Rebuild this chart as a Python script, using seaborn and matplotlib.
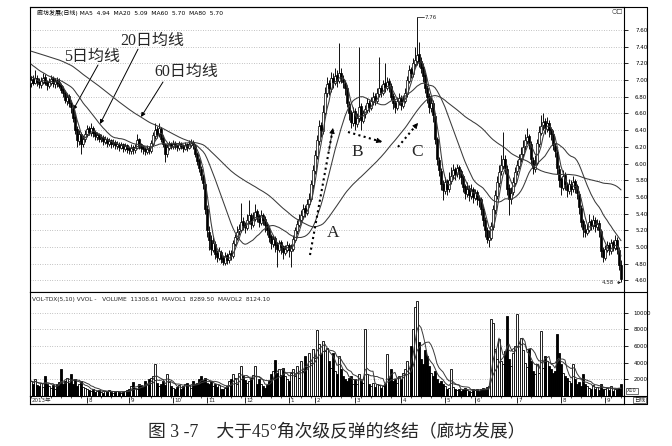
import numpy as np
import pandas as pd
import matplotlib
matplotlib.use("Agg")
import matplotlib.pyplot as plt
import seaborn as sns
from matplotlib.lines import Line2D

sns.set_theme(style="white")
plt.rcParams['font.family'] = ['DejaVu Sans', 'Noto Sans CJK SC']
plt.rcParams['axes.unicode_minus'] = False

# ---------------- data (prices in cents) ----------------
warmup_close = [744, 741, 746, 743, 740, 745, 742, 747, 744, 741, 743, 746, 742, 740, 744,
                741, 745, 743, 739, 742, 744, 741, 746, 743, 740, 742, 745, 741, 743, 740,
                744, 742, 739, 743, 741, 745, 742, 740, 738, 741,
                740, 738, 735, 736, 732, 730, 728, 725, 726, 722, 720, 716, 718, 713, 710,
                712, 707, 705, 708, 703]

close = [700, 697, 702, 698, 695, 699, 703, 697, 694, 698, 701, 696, 699, 697,
         693, 688, 684, 676, 680, 672, 668,
         655, 640, 628, 635, 624,
         630, 636, 641, 638, 642, 637, 633,
         634, 630, 631, 627, 629, 625, 627, 624, 625, 622, 623, 620, 622, 619, 621,
         618, 616, 619, 617, 620, 628, 622, 619, 617, 615, 618, 616,
         625, 634, 640, 636, 642,
         630, 624,
         612, 620, 623, 621, 624, 622, 620, 623, 621, 619, 622, 620, 623,
         625, 622,
         612, 603, 595, 586, 577,
         545, 520, 508,
         498, 505, 492, 488, 495, 486, 482, 489, 485,
         492, 490,
         505, 512, 518, 522, 530, 526, 524,
         532, 538, 528, 535, 542, 536, 530, 538, 533, 526,
         520, 512, 505, 510, 502, 498, 505, 500, 494, 498, 502, 496, 499,
         510, 520, 528, 534,
         538, 546, 542, 552, 558,
         575, 592, 610,
         628, 645, 640, 662,
         685, 695, 690, 702, 698, 705, 700,
         708, 702, 698, 690,
         672, 660, 650, 662, 648, 655, 668, 652, 660,
         665, 672, 668, 675, 680, 676, 684, 690, 686, 695, 692, 698, 694,
         680, 672, 668, 675, 678, 670, 676, 684,
         700, 712, 708, 720, 724,
         730, 722, 715, 705,
         690, 680, 668, 672, 658,
         630, 605, 592,
         575, 568, 578, 570, 580,
         585, 592, 588, 595, 590, 584,
         572, 565, 570, 562, 568, 560, 565, 558, 556,
         545, 532, 520, 510, 512,
         525, 545, 562, 578, 590, 598, 605, 595,
         570, 558, 565,
         578, 590, 598, 605, 612, 620, 628, 632, 625,
         605, 595, 600,
         625, 638, 645, 650, 642, 648, 640, 635,
         622, 615,
         595, 580, 572, 585, 575,
         568, 575, 570, 578, 572, 565,
         548, 530, 522, 518,
         522, 530, 526, 532, 525, 528, 520,
         495, 488,
         498, 502, 496, 505, 500, 508, 498,
         478, 462]

open_ = [696, 701, 697, 703, 699, 694, 698, 704, 698, 693, 697, 702, 695, 700,
         698, 694, 689, 685, 675, 681, 673,
         667, 656, 641, 627, 636,
         623, 630, 635, 642, 637, 643, 638,
         632, 635, 629, 632, 626, 630, 624, 628, 623, 626, 621, 624, 619, 623, 618,
         622, 619, 615, 620, 616, 619, 629, 623, 620, 618, 614, 619,
         615, 624, 633, 641, 635,
         641, 631,
         623, 611, 619, 624, 620, 625, 622, 619, 624, 621, 618, 623, 619,
         622, 626,
         621, 611, 604, 594, 585,
         575, 546, 518,
         509, 497, 504, 493, 487, 494, 487, 481, 490,
         484, 493,
         489, 504, 511, 519, 521, 531, 527,
         523, 531, 539, 527, 534, 543, 537, 529, 539, 534,
         527, 521, 513, 504, 511, 503, 497, 506, 501, 493, 497, 503, 495,
         498, 509, 519, 527,
         533, 537, 547, 541, 551,
         557, 574, 591,
         609, 627, 646, 639,
         661, 684, 696, 689, 703, 697, 706,
         699, 709, 701, 697,
         691, 671, 661, 649, 663, 647, 654, 669, 651,
         659, 664, 673, 667, 674, 681, 675, 683, 691, 685, 696, 691, 699,
         693, 681, 673, 667, 674, 679, 669, 675,
         683, 699, 713, 707, 719,
         723, 731, 723, 716,
         706, 691, 681, 667, 673,
         657, 629, 604,
         591, 576, 567, 579, 569,
         579, 586, 593, 587, 596, 591,
         585, 573, 564, 571, 561, 569, 559, 566, 557,
         557, 546, 533, 521, 509,
         511, 524, 544, 561, 577, 591, 597, 606,
         594, 571, 557,
         566, 577, 591, 597, 606, 611, 621, 627, 633,
         624, 604, 594,
         601, 624, 637, 646, 651, 641, 649, 641,
         636, 621,
         614, 594, 581, 571, 586,
         574, 567, 576, 569, 579, 573,
         564, 547, 531, 521,
         517, 521, 531, 525, 533, 524, 529,
         519, 496,
         487, 497, 503, 495, 506, 499, 509,
         497, 479]

high = [705, 706, 712, 706, 702, 704, 708, 707, 700, 703, 706, 705, 703, 704,
        702, 697, 693, 688, 684, 683, 676,
        670, 660, 645, 640, 638,
        634, 640, 646, 645, 648, 645, 640,
        638, 637, 635, 634, 633, 632, 631, 630, 629, 628, 627, 626, 626, 625, 625,
        624, 621, 623, 622, 624, 636, 631, 625, 622, 620, 622, 621,
        628, 638, 649, 645, 648,
        644, 634,
        625, 624, 627, 626, 628, 627, 624, 627, 626, 623, 626, 625, 628,
        630, 628,
        623, 614, 607, 597, 588,
        578, 550, 525,
        515, 512, 507, 496, 500, 497, 490, 494, 493,
        497, 496,
        508, 516, 525, 528, 553, 536, 530,
        540, 556, 541, 542, 552, 546, 540, 544, 541, 537,
        530, 524, 516, 515, 513, 506, 509, 508, 503, 503, 507, 505, 504,
        514, 524, 533, 540,
        544, 552, 550, 558, 565,
        580, 598, 616,
        634, 652, 650, 670,
        692, 704, 700, 710, 708, 715, 712,
        744, 714, 706, 700,
        694, 675, 664, 668, 666, 660, 740, 672, 664,
        670, 678, 676, 680, 686, 684, 690, 728, 694, 700, 720, 704, 702,
        696, 684, 676, 680, 684, 682, 682, 690,
        705, 718, 716, 726, 740,
        776, 745, 728, 720,
        710, 694, 684, 680, 676,
        660, 632, 608,
        595, 580, 584, 582, 590,
        596, 600, 596, 600, 598, 594,
        588, 576, 578, 574, 575, 572, 570, 568, 562,
        560, 549, 536, 524, 520,
        530, 550, 568, 585, 598, 610, 638, 610,
        598, 575, 572,
        584, 596, 604, 612, 620, 628, 636, 642, 636,
        627, 608, 610,
        630, 645, 658, 660, 654, 656, 652, 644,
        640, 625,
        617, 598, 584, 592, 590,
        578, 582, 580, 585, 582, 576,
        567, 550, 534, 528,
        528, 540, 534, 538, 536, 534, 532,
        522, 500,
        503, 507, 506, 510, 509, 514, 512,
        500, 485]

low = [692, 694, 695, 693, 690, 690, 695, 694, 688, 690, 694, 692, 691, 692,
       690, 684, 680, 672, 670, 668, 660,
       650, 636, 620, 622, 612,
       620, 626, 632, 634, 633, 632, 628,
       628, 626, 626, 622, 623, 620, 621, 619, 620, 617, 618, 615, 617, 614, 615,
       613, 611, 612, 612, 613, 617, 618, 614, 612, 610, 611, 611,
       613, 621, 630, 631, 632,
       626, 620,
       602, 608, 616, 617, 618, 618, 615, 616, 617, 614, 616, 615, 617,
       620, 618,
       608, 598, 590, 580, 570,
       540, 512, 497,
       490, 494, 486, 482, 484, 481, 478, 479, 480,
       481, 485,
       487, 501, 508, 514, 518, 520, 517,
       520, 528, 522, 524, 531, 530, 524, 526, 527, 518,
       514, 506, 498, 500, 494, 476, 494, 492, 486, 490, 494, 488, 476,
       495, 506, 516, 524,
       530, 534, 536, 538, 548,
       555, 570, 588,
       605, 622, 632, 636,
       658, 680, 682, 686, 690, 694, 692,
       696, 696, 690, 682,
       668, 652, 642, 645, 640, 644, 650, 640, 648,
       655, 660, 662, 664, 670, 670, 672, 680, 680, 682, 686, 688, 686,
       676, 665, 660, 664, 670, 664, 666, 672,
       680, 696, 702, 704, 716,
       718, 716, 708, 698,
       684, 672, 660, 662, 650,
       624, 598, 585,
       568, 556, 564, 562, 566,
       576, 582, 580, 584, 582, 576,
       566, 558, 560, 555, 558, 553, 556, 550, 548,
       538, 525, 512, 505, 500,
       508, 520, 540, 558, 572, 586, 594, 588,
       562, 538, 552,
       562, 574, 586, 594, 602, 608, 616, 624, 618,
       598, 588, 590,
       598, 620, 634, 640, 636, 638, 632, 628,
       616, 608,
       588, 572, 562, 568, 568,
       560, 564, 562, 566, 565, 558,
       540, 524, 512, 512,
       514, 518, 520, 522, 518, 521, 512,
       488, 482,
       485, 494, 490, 492, 495, 496, 492,
       472, 458]

volume = [1800, 1500, 2000, 1300, 1200, 1600, 1100, 2400, 1400, 1200, 1000, 1300, 900, 1500,
          1700, 3200, 1400, 1800, 2200, 1600, 2600, 1500, 2000, 1200, 1400, 1800, 1100, 1000,
          900, 700, 600, 800, 500, 600, 700, 500, 400, 600, 500, 700, 500, 400, 500, 600,
          500, 400, 500, 600, 700, 800,
          1200, 1700, 1000, 900, 1500, 1300, 1100, 1800, 1400, 2000, 2200, 2400, 3800, 1600,
          1200, 1500, 1800, 1300, 2600, 1700, 1200, 1000,
          900, 1100, 1300, 800, 1200, 1500, 1600, 1300, 1000, 1800, 1400, 1600, 2000, 2400,
          1900, 2200, 1600, 1400, 1800, 1200, 1500, 1100, 1300, 900, 800, 1000,
          1200, 1800, 2000, 2600, 2200, 1500, 2800, 3600, 2400, 1900,
          1600, 1800, 2200, 2500, 3600, 1400, 2000, 1500, 1200, 1000,
          1300, 1800, 2600, 3000, 4300, 2800, 3200, 2500, 3400, 2400, 2000, 1800, 2800, 3200,
          2400, 3600, 2200, 4200, 3000, 4800, 3500, 5200, 4000, 5600, 4600, 7900, 6200, 5000,
          6600, 5400,
          5800, 4200, 3400, 5200, 3000, 2600, 4800, 3200, 2400, 2000,
          1800, 2200, 2400, 1500, 2000, 1400, 2600, 1800, 1600, 8100,
          2600, 1400, 1200, 1600, 1100, 1500, 1300, 1000, 1200, 1400,
          5000, 2200, 3200, 1800, 2000, 1600, 2400, 2000, 2800, 3200,
          4200, 3400, 6000, 8000, 10700, 11400, 6500, 4500, 3800,
          5500, 4800, 3600, 2800, 2400, 3000, 2000, 1600, 1800, 1400,
          1200, 900, 1000, 3200, 1100, 800, 700, 900, 600, 800, 1000, 700, 600, 500, 800,
          700, 900, 600, 800, 1000, 900, 1100, 1200,
          9200, 8800, 5600, 4400, 6800, 4200, 3800, 5400, 9600, 4500, 3600, 5200, 6000, 9800,
          6400, 7000, 5500, 4000,
          3500, 5600, 4200, 3000, 2600, 3800, 2800, 7800, 3400, 4800, 4200, 3600, 3200, 2800,
          3000, 7400, 5200, 3800, 2800, 2400,
          2200, 1800, 1600, 3800, 2000, 1400, 1700, 1200, 2600, 1500,
          1200, 1000, 900, 1300, 800, 1100, 700, 1500, 900, 800, 1000, 700, 1200, 600, 900,
          800, 1000, 1400]

month_pos = [0, 28, 49, 71, 88, 107, 129, 142, 162, 185, 207, 222, 243, 265, 287]
month_labels = ["2013年", "8", "9", "10", "11", "12", "1", "2", "3", "4", "5", "6", "7", "8", "9"]
price_ticks = [4.60, 4.80, 5.00, 5.20, 5.40, 5.60, 5.80, 6.00, 6.20, 6.40, 6.60, 6.80,
               7.00, 7.20, 7.40, 7.60]
vol_ticks = [2000, 4000, 6000, 8000, 10000]

header_price = "廊坊发展(日线) MA5  4.94  MA20  5.09  MA60  5.70  MA80  5.70"
header_vol = "VOL-TDX(5,10) VVOL -   VOLUME  11308.61  MAVOL1  8289.50  MAVOL2  8124.10"
caption = "图 3 -7    大于45°角次级反弹的终结（廊坊发展）"

lens = [len(close), len(open_), len(high), len(low), len(volume)]
assert len(set(lens)) == 1, lens

# ---------------- derived frame ----------------
N = len(close)
idx = np.arange(N)
o = np.array(open_) / 100.0
h = np.array(high) / 100.0
l = np.array(low) / 100.0
c = np.array(close) / 100.0
v = np.array(volume, dtype=float)
allc = pd.Series(np.r_[np.array(warmup_close) / 100.0, c])
df = pd.DataFrame({
    "i": idx,
    "ma5": allc.rolling(5).mean().values[-N:],
    "ma20": allc.rolling(20).mean().values[-N:],
    "ma60": allc.rolling(60).mean().values[-N:],
    "mv5": pd.Series(v).rolling(5, min_periods=1).mean().values,
    "mv10": pd.Series(v).rolling(10, min_periods=1).mean().values,
})
up = c >= o

# ---------------- layout ----------------
W, H = 672, 446
fig = plt.figure(figsize=(W / 100, H / 100), dpi=100)
fig.patch.set_facecolor("white")

def fx(px):
    return px / W

def fy(py):
    return 1 - py / H

L, R = 30, 624
ax = fig.add_axes([fx(L), fy(292), fx(R) - fx(L), fy(7) - fy(292)])
axv = fig.add_axes([fx(L), fy(396), fx(R) - fx(L), fy(292) - fy(396)])
axd = fig.add_axes([fx(L), fy(404), fx(R) - fx(L), fy(396) - fy(404)])

XL = (-0.5, 296.5)
for a in (ax, axv, axd):
    a.set_xlim(*XL)
    a.set_facecolor("white")
    for s in a.spines.values():
        s.set_color("black")
        s.set_linewidth(0.8)

# ---- price panel ----
ax.set_ylim(4.462, 7.875)
ax.vlines(idx, l, h, color="black", lw=0.65, zorder=2)
ax.bar(idx[up], (c - o)[up], bottom=o[up], width=0.75, color="white",
       edgecolor="black", linewidth=0.5, zorder=3)
ax.bar(idx[~up], (o - c)[~up], bottom=c[~up], width=0.75, color="black",
       edgecolor="black", linewidth=0.5, zorder=3)
for col in ("ma5", "ma20", "ma60"):
    sns.lineplot(data=df, x="i", y=col, ax=ax, color="#3a3a3a", lw=0.75, zorder=4)
ax.set_xlabel("")
ax.set_ylabel("")
ax.set_xticks([])
ax.set_yticks(price_ticks)
ax.set_yticklabels([f"{t:.2f}" for t in price_ticks])
ax.yaxis.tick_right()
ax.tick_params(axis="y", which="both", right=True, left=False, length=3, width=0.6,
               pad=5, labelsize=4, colors="black", direction="out")
ax.grid(axis="y", linestyle=(0, (1, 2.5)), color="#8a8a8a", lw=0.5)
ax.grid(axis="x", visible=False)
ax.text(3, 7.80, header_price, fontsize=4.3, va="center", ha="left", color="black")

# peak / low marks
ax.plot([193, 196.5], [7.76, 7.76], color="black", lw=0.5)
ax.text(196.8, 7.745, "7.76", fontsize=4, va="center", ha="left")
ax.annotate("4.58", xy=(295, 4.575), xytext=(285.5, 4.575), fontsize=4,
            va="center", ha="left",
            arrowprops=dict(arrowstyle="->", lw=0.5, color="black", shrinkA=0, shrinkB=0))

# MA annotations
tf = ["Liberation Serif", "Noto Sans CJK SC"]
ax.text(30.5, 7.277, "5日均线", fontsize=11.5, family=tf, ha="center", va="center")
ax.text(60.5, 7.468, "20日均线", fontsize=11.5, family=tf, ha="center", va="center")
ax.text(77.5, 7.097, "60日均线", fontsize=11.5, family=tf, ha="center", va="center")
arr = dict(arrowstyle="-|>", lw=0.7, color="black", mutation_scale=6, shrinkA=0, shrinkB=0)
ax.annotate("", xy=(21, 6.64), xytext=(33.5, 7.18), arrowprops=arr)
ax.annotate("", xy=(34.5, 6.474), xytext=(53.5, 7.37), arrowprops=arr)
ax.annotate("", xy=(55, 6.558), xytext=(66, 6.977), arrowprops=arr)

# A B C
for lab, xx, yy in (("A", 151, 5.169), ("B", 163, 6.139), ("C", 193, 6.139)):
    ax.text(xx, yy, lab, fontsize=12.5, family="Liberation Serif", ha="center", va="center")

def dotted_arrow(x0, y0, x1, y1):
    ax.plot([x0, x1], [y0, y1], color="black", lw=1.5, linestyle=(0, (1, 1.6)), zorder=5)
    xs, ys = x1 - 0.18 * (x1 - x0), y1 - 0.18 * (y1 - y0)
    ax.annotate("", xy=(x1, y1), xytext=(xs, ys),
                arrowprops=dict(arrowstyle="-|>", lw=0.6, color="black",
                                mutation_scale=8, shrinkA=0, shrinkB=0), zorder=6)

dotted_arrow(139.5, 4.905, 151, 6.426)
dotted_arrow(158.5, 6.378, 175.5, 6.259)
dotted_arrow(183.5, 6.199, 193.5, 6.486)

# ---- volume panel ----
axv.set_ylim(0, 12500)
axv.bar(idx[up], v[up], width=0.75, color="white", edgecolor="black", linewidth=0.6, zorder=3)
axv.bar(idx[~up], v[~up], width=0.75, color="black", edgecolor="black", linewidth=0.6, zorder=3)
for col in ("mv5", "mv10"):
    sns.lineplot(data=df, x="i", y=col, ax=axv, color="#3a3a3a", lw=0.7, zorder=4)
axv.set_xlabel("")
axv.set_ylabel("")
axv.set_xticks([])
axv.set_yticks(vol_ticks)
axv.set_yticklabels([str(t) for t in vol_ticks])
axv.yaxis.tick_right()
axv.tick_params(axis="y", right=True, left=False, length=3, width=0.6, pad=4,
                labelsize=4, colors="black", direction="out")
axv.grid(axis="y", linestyle=(0, (1, 2.5)), color="#8a8a8a", lw=0.5)
axv.grid(axis="x", visible=False)
axv.text(0.5, 11650, header_vol, fontsize=4.2, va="center", ha="left")

# ---- date strip ----
axd.set_ylim(0, 1)
axd.set_yticks([])
axd.set_xticks(np.arange(0, N, 5))
axd.set_xticklabels([])
axd.tick_params(axis="x", which="both", top=True, bottom=False, direction="in",
                length=1.5, width=0.5, colors="black")
for p, lab in zip(month_pos, month_labels):
    if p > 0:
        axd.vlines(p, 0.12, 0.88, color="black", lw=0.6)
        axd.text(p + 0.9, 0.45, lab, fontsize=4, ha="left", va="center")
    else:
        axd.text(0.5, 0.45, lab, fontsize=4, ha="left", va="center")

# ---- outer frame and right column ----
def fline(x0, y0, x1, y1, lw=0.8):
    fig.add_artist(Line2D([fx(x0), fx(x1)], [fy(y0), fy(y1)], color="black", lw=lw))

fline(L, 7, 647, 7)
fline(647, 7, 647, 404)
fline(L, 404, 647, 404)
fline(R, 292, 647, 292)
fline(R, 396, 647, 396)
fig.text(fx(612), fy(11), "○□", fontsize=4.5, ha="left", va="center")
fig.text(fx(627), fy(391), "X10", fontsize=3.6, ha="left", va="center",
         bbox=dict(boxstyle="square,pad=0.15", fc="white", ec="black", lw=0.4))
fig.text(fx(634), fy(400), "日线", fontsize=4, ha="left", va="center",
         bbox=dict(boxstyle="square,pad=0.1", fc="white", ec="black", lw=0.4))

# ---- caption ----
fig.text(fx(337), fy(432), caption, fontsize=12.8, ha="center", va="center",
         family=["Liberation Serif", "Noto Sans CJK SC"])

fig.savefig("out.png", dpi=100, facecolor="white")
